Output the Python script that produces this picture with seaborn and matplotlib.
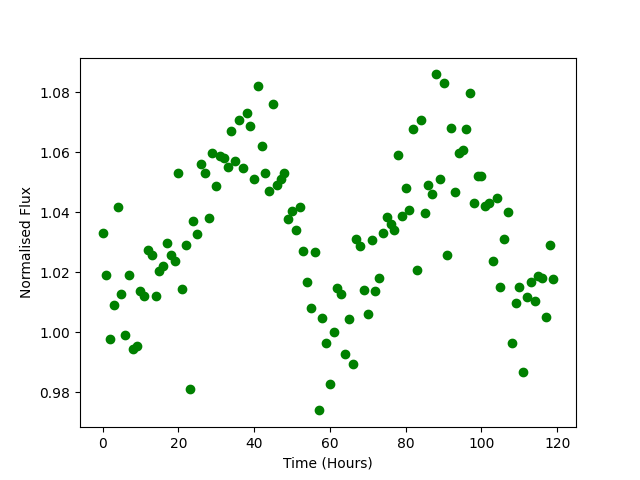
# light curve scatter: flux vs time
import matplotlib
matplotlib.use("Agg")
import matplotlib.pyplot as plt
import seaborn as sns
import pandas as pd

# time stamps (hours) and normalised flux
time_hours = list(range(120))
flux = [
    1.0332, 1.0192, 0.9979, 1.0092, 1.0417, 1.0126, 0.9992, 1.0192, 0.9944, 0.9953,
    1.0139, 1.0122, 1.0273, 1.0256, 1.0122, 1.0203, 1.0220, 1.0298, 1.0256, 1.0236,
    1.0532, 1.0143, 1.0290, 0.9812, 1.0372, 1.0329, 1.0562, 1.0529, 1.0380, 1.0596,
    1.0486, 1.0586, 1.0582, 1.0549, 1.0672, 1.0571, 1.0706, 1.0546, 1.0732, 1.0686,
    1.0509, 1.0819, 1.0622, 1.0529, 1.0472, 1.0762, 1.0492, 1.0510, 1.0529, 1.0376,
    1.0404, 1.0342, 1.0417, 1.0272, 1.0166, 1.0082, 1.0269, 0.9740, 1.0047, 0.9966,
    0.9827, 1.0000, 1.0146, 1.0126, 0.9929, 1.0043, 0.9893, 1.0310, 1.0289, 1.0142,
    1.0062, 1.0306, 1.0136, 1.0182, 1.0332, 1.0384, 1.0362, 1.0342, 1.0589, 1.0389,
    1.0482, 1.0406, 1.0676, 1.0206, 1.0706, 1.0396, 1.0492, 1.0462, 1.0859, 1.0512,
    1.0829, 1.0256, 1.0679, 1.0466, 1.0596, 1.0606, 1.0676, 1.0796, 1.0432, 1.0522,
    1.0519, 1.0422, 1.0432, 1.0239, 1.0449, 1.0152, 1.0312, 1.0402, 0.9966, 1.0099,
    1.0152, 0.9869, 1.0119, 1.0166, 1.0106, 1.0186, 1.0182, 1.0052, 1.0292, 1.0179,
]

df = pd.DataFrame({"time": time_hours, "flux": flux})

fig, ax = plt.subplots(figsize=(6.4, 4.8), dpi=100)
sns.scatterplot(x="time", y="flux", data=df, ax=ax, color="green",
                s=36, edgecolor="green", linewidth=1)
ax.set_xlabel("Time (Hours)")
ax.set_ylabel("Normalised Flux")

fig.savefig("out.png")
